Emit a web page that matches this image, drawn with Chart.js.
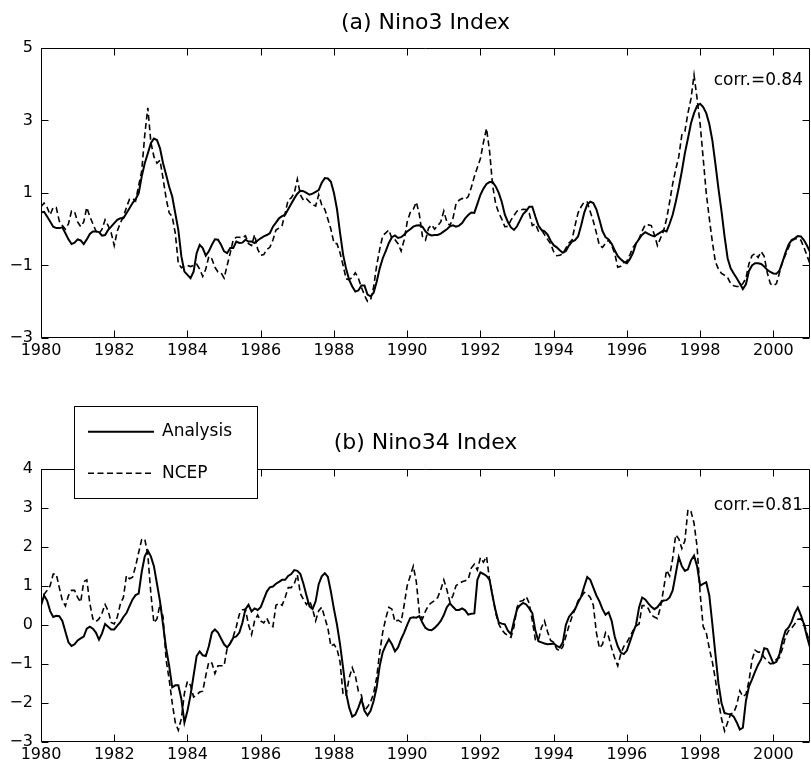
<!DOCTYPE html>
<html>
<head>
<meta charset="utf-8">
<title>Nino3 / Nino34 Index</title>
<script src="https://cdn.jsdelivr.net/npm/chart.js@4.4.1/dist/chart.umd.min.js"></script>
<style>
  html, body { margin: 0; padding: 0; background: #fff; }
  .panel { position: absolute; left: 0; width: 811px; }
  #panelA { top: 0; height: 386px; }
  #panelB { top: 386px; height: 387px; }
</style>
</head>
<body>
<div class="panel" id="panelA"><canvas id="ninoA" width="811" height="386"></canvas></div>
<div class="panel" id="panelB"><canvas id="ninoB" width="811" height="387"></canvas></div>
<script>
// monthly time axis, Jan 1980 .. Jan 2001
const months = [];
for (let i = 0; i <= 252; i++) months.push(1980 + i / 12);

const xTicks = [1980, 1982, 1984, 1986, 1988, 1990, 1992, 1994, 1996, 1998, 2000];
const yTicksA = [-3, -1, 1, 3, 5];
const yTicksB = [-3, -2, -1, 0, 1, 2, 3, 4];

const seriesNames = ['Analysis', 'NCEP'];
const titles = ['(a) Nino3 Index', '(b) Nino34 Index'];
const corrLabels = ['corr.=0.84', 'corr.=0.81'];

// (a) Nino3, one row per year
const nino3Analysis = [
  0.46, 0.48, 0.35, 0.21, 0.07, 0.03, 0.03, 0.05, -0.11, -0.28, -0.41, -0.37,
  -0.28, -0.31, -0.41, -0.28, -0.13, -0.06, -0.06, -0.08, -0.18, -0.16, -0.02, 0.07,
  0.17, 0.26, 0.30, 0.30, 0.44, 0.58, 0.72, 0.83, 0.99, 1.45, 1.82, 2.09,
  2.37, 2.50, 2.46, 2.23, 1.82, 1.50, 1.17, 0.90, 0.44, -0.02, -0.75, -1.17,
  -1.26, -1.35, -1.17, -0.66, -0.43, -0.52, -0.73, -0.61, -0.43, -0.28, -0.29, -0.43,
  -0.61, -0.66, -0.52, -0.52, -0.34, -0.38, -0.37, -0.29, -0.34, -0.34, -0.38, -0.31,
  -0.25, -0.20, -0.16, -0.11, 0.07, 0.18, 0.30, 0.36, 0.40, 0.55, 0.70, 0.85,
  0.98, 1.06, 1.05, 1.00, 0.95, 0.98, 1.03, 1.08, 1.28, 1.41, 1.40, 1.31,
  1.00, 0.55, -0.10, -0.70, -1.10, -1.40, -1.58, -1.72, -1.69, -1.55, -1.55, -1.80,
  -1.85, -1.75, -1.45, -1.08, -0.80, -0.60, -0.38, -0.22, -0.17, -0.24, -0.22, -0.15,
  -0.06, 0.00, 0.07, 0.10, 0.11, 0.07, -0.06, -0.14, -0.17, -0.16, -0.16, -0.12,
  -0.06, 0.00, 0.08, 0.11, 0.07, 0.10, 0.17, 0.30, 0.39, 0.46, 0.45, 0.70,
  0.95, 1.12, 1.25, 1.30, 1.30, 1.18, 1.00, 0.75, 0.40, 0.20, 0.05, -0.02,
  0.08, 0.25, 0.42, 0.50, 0.62, 0.62, 0.35, 0.10, -0.02, -0.06, -0.15, -0.32,
  -0.44, -0.50, -0.58, -0.65, -0.60, -0.45, -0.34, -0.30, -0.20, 0.10, 0.45, 0.68,
  0.76, 0.72, 0.55, 0.26, -0.05, -0.22, -0.28, -0.40, -0.58, -0.74, -0.83, -0.90,
  -0.94, -0.82, -0.65, -0.39, -0.27, -0.15, -0.08, -0.13, -0.17, -0.20, -0.14, -0.09,
  -0.03, -0.06, 0.15, 0.40, 0.75, 1.15, 1.60, 2.10, 2.50, 2.92, 3.20, 3.40,
  3.46, 3.37, 3.20, 2.90, 2.45, 1.80, 1.12, 0.50, -0.20, -0.80, -1.08, -1.22,
  -1.35, -1.50, -1.65, -1.52, -1.15, -1.00, -0.94, -0.94, -0.96, -1.03, -1.12, -1.18,
  -1.22, -1.23, -1.14, -0.90, -0.64, -0.42, -0.30, -0.25, -0.19, -0.20, -0.30, -0.45,
  -0.62
];
const nino3Ncep = [
  0.62, 0.72, 0.60, 0.40, 0.60, 0.60, 0.22, 0.10, 0.00, 0.15, 0.50, 0.48,
  0.20, 0.07, 0.20, 0.60, 0.35, 0.15, -0.05, -0.13, 0.00, 0.26, 0.10, -0.10,
  -0.45, -0.05, 0.17, 0.35, 0.60, 0.83, 0.85, 0.78, 1.20, 1.60, 2.60, 3.35,
  2.40, 2.00, 1.82, 1.90, 1.40, 0.85, 0.45, 0.35, -0.11, -0.94, -1.06, -1.02,
  -1.00, -1.03, -1.00, -0.96, -1.10, -1.30, -1.10, -0.75, -0.82, -1.05, -1.18, -1.20,
  -1.35, -1.00, -0.66, -0.29, -0.22, -0.22, -0.24, -0.18, -0.40, -0.45, -0.15, -0.55,
  -0.72, -0.70, -0.56, -0.50, -0.30, -0.02, 0.03, 0.10, 0.44, 0.81, 0.86, 1.00,
  1.38, 0.95, 0.80, 0.84, 0.75, 0.68, 0.64, 0.95, 0.67, 0.55, 0.28, 0.00,
  -0.38, -0.40, -0.65, -1.00, -1.37, -1.39, -1.33, -1.20, -1.35, -1.60, -1.82, -1.99,
  -1.95, -1.60, -1.00, -0.55, -0.18, -0.10, -0.02, -0.26, -0.29, -0.40, -0.60, -0.30,
  0.20, 0.46, 0.55, 0.75, 0.40, -0.20, -0.30, 0.03, 0.12, 0.00, 0.10, 0.20,
  0.50, 0.20, 0.10, 0.30, 0.70, 0.80, 0.85, 0.82, 0.90, 1.15, 1.45, 1.70,
  1.95, 2.40, 2.78, 2.15, 1.20, 0.70, 0.45, 0.28, 0.07, 0.08, 0.25, 0.38,
  0.50, 0.53, 0.55, 0.54, 0.44, 0.10, 0.15, -0.05, -0.02, -0.15, -0.28, -0.40,
  -0.62, -0.73, -0.72, -0.67, -0.52, -0.38, -0.30, 0.10, 0.45, 0.62, 0.75, 0.75,
  0.48, 0.22, -0.10, -0.45, -0.50, -0.39, -0.30, -0.45, -0.66, -1.05, -1.02, -0.92,
  -0.88, -0.70, -0.50, -0.39, -0.26, -0.05, 0.12, 0.12, 0.10, -0.15, -0.45, -0.25,
  -0.05, 0.28, 0.75, 1.25, 1.65, 2.00, 2.60, 2.70, 3.20, 3.60, 4.25, 3.60,
  2.90, 1.95, 1.00, 0.30, -0.35, -0.90, -1.10, -1.22, -1.27, -1.33, -1.50, -1.56,
  -1.58, -1.58, -1.50, -1.35, -0.95, -0.73, -0.67, -0.78, -0.62, -0.75, -1.20, -1.50,
  -1.56, -1.50, -1.20, -0.90, -0.70, -0.50, -0.32, -0.27, -0.26, -0.30, -0.50, -0.72,
  -0.96
];

// (b) Nino34, one row per year
const nino34Analysis = [
  0.49, 0.75, 0.62, 0.35, 0.20, 0.23, 0.22, 0.10, -0.18, -0.45, -0.54, -0.50,
  -0.40, -0.35, -0.30, -0.10, -0.05, -0.10, -0.20, -0.38, -0.22, 0.02, -0.05, -0.12,
  -0.12, -0.02, 0.07, 0.20, 0.30, 0.48, 0.65, 0.76, 0.80, 1.35, 1.75, 1.90,
  1.75, 1.50, 1.05, 0.60, 0.00, -0.60, -1.05, -1.60, -1.55, -1.55, -1.90, -2.50,
  -2.20, -1.80, -1.30, -0.80, -0.68, -0.78, -0.80, -0.55, -0.20, -0.12, -0.20, -0.35,
  -0.50, -0.58, -0.48, -0.33, -0.30, -0.20, 0.05, 0.40, 0.51, 0.34, 0.42, 0.38,
  0.45, 0.65, 0.85, 0.96, 0.98, 1.05, 1.10, 1.15, 1.15, 1.25, 1.30, 1.40,
  1.38, 1.30, 1.05, 0.75, 0.47, 0.40, 0.60, 1.04, 1.24, 1.32, 1.23, 0.85,
  0.40, 0.00, -0.50, -1.10, -1.75, -2.12, -2.35, -2.30, -2.12, -1.90, -2.20, -2.32,
  -2.20, -1.95, -1.60, -1.05, -0.70, -0.52, -0.37, -0.50, -0.68, -0.58, -0.37, -0.20,
  0.00, 0.17, 0.19, 0.18, 0.22, 0.05, -0.08, -0.13, -0.14, -0.08, 0.00, 0.10,
  0.25, 0.45, 0.55, 0.46, 0.38, 0.38, 0.42, 0.37, 0.26, 0.28, 0.29, 1.15,
  1.34, 1.30, 1.25, 1.15, 0.72, 0.35, 0.06, 0.03, 0.01, -0.15, -0.24, 0.10,
  0.40, 0.50, 0.56, 0.52, 0.42, 0.30, -0.15, -0.42, -0.45, -0.48, -0.50, -0.49,
  -0.48, -0.54, -0.58, -0.45, 0.00, 0.20, 0.30, 0.40, 0.57, 0.72, 0.98, 1.22,
  1.15, 0.95, 0.75, 0.60, 0.40, 0.26, 0.32, 0.10, -0.30, -0.55, -0.71, -0.75,
  -0.66, -0.43, -0.20, 0.00, 0.45, 0.70, 0.65, 0.55, 0.46, 0.40, 0.45, 0.56,
  0.62, 0.63, 0.70, 0.88, 1.30, 1.73, 1.50, 1.38, 1.42, 1.65, 1.77, 1.50,
  1.00, 1.05, 1.09, 0.75, 0.02, -0.75, -1.50, -2.00, -2.26, -2.28, -2.29, -2.35,
  -2.50, -2.68, -2.63, -1.95, -1.58, -1.40, -1.20, -1.02, -0.88, -0.60, -0.62, -0.80,
  -0.99, -0.95, -0.75, -0.40, -0.15, -0.07, 0.08, 0.30, 0.44, 0.25, 0.02, -0.30,
  -0.58
];
const nino34Ncep = [
  0.53, 0.78, 0.88, 1.00, 1.30, 1.30, 0.95, 0.62, 0.48, 0.75, 0.88, 0.88,
  0.70, 0.58, 1.10, 1.15, 0.55, 0.15, 0.08, 0.15, 0.30, 0.52, 0.36, 0.06,
  0.02, 0.20, 0.53, 0.70, 1.26, 1.18, 1.22, 1.50, 1.85, 2.18, 2.20, 1.80,
  0.80, 0.05, 0.15, 0.53, 0.20, -0.90, -1.40, -2.00, -2.50, -2.70, -2.40, -1.75,
  -1.45, -1.55, -1.85, -1.80, -1.72, -1.70, -1.30, -0.95, -0.98, -1.25, -1.05, -1.05,
  -1.05, -0.60, -0.47, -0.30, -0.05, 0.27, 0.38, 0.40, 0.00, -0.25, 0.10, 0.25,
  0.10, 0.05, 0.17, 0.00, -0.05, 0.50, 0.55, 0.50, 0.70, 0.95, 0.95, 1.05,
  1.28, 0.80, 0.65, 0.52, 0.62, 0.40, 0.10, 0.36, 0.45, 0.18, -0.08, -0.55,
  -0.50, -0.62, -0.95, -1.80, -1.80, -1.35, -1.10, -1.30, -1.70, -1.80, -2.20, -2.10,
  -1.98, -1.75, -1.35, -0.70, -0.18, 0.17, 0.45, 0.40, 0.08, 0.12, 0.07, 0.50,
  1.00, 1.25, 1.50, 1.10, 0.30, 0.15, 0.35, 0.50, 0.57, 0.62, 0.70, 0.90,
  1.15, 0.90, 0.58, 0.75, 1.00, 1.06, 1.10, 1.13, 1.16, 1.45, 1.55, 1.40,
  1.72, 1.60, 1.75, 1.15, 0.75, 0.30, 0.02, -0.13, -0.22, -0.28, -0.32, -0.05,
  0.45, 0.60, 0.62, 0.72, 0.55, 0.10, -0.38, -0.40, -0.07, 0.10, -0.18, -0.40,
  -0.45, -0.62, -0.67, -0.56, -0.30, -0.03, 0.20, 0.40, 0.62, 0.70, 0.83, 0.79,
  0.70, 0.50, -0.20, -0.60, -0.50, -0.20, -0.30, -0.60, -0.85, -1.05, -0.75, -0.55,
  -0.45, -0.30, -0.15, -0.03, 0.02, 0.49, 0.49, 0.42, 0.25, 0.20, 0.16, 0.45,
  0.90, 1.40, 1.25, 1.70, 2.30, 2.20, 1.95, 2.15, 2.95, 2.90, 2.60, 2.00,
  0.80, -0.05, -0.20, -0.60, -0.95, -1.40, -1.95, -2.40, -2.72, -2.50, -2.28, -2.25,
  -2.05, -1.69, -1.84, -1.78, -1.44, -0.90, -0.65, -0.70, -0.70, -0.84, -0.92, -1.00,
  -0.98, -0.88, -0.84, -0.60, -0.30, -0.15, -0.08, 0.02, 0.14, 0.15, 0.05, -0.22,
  -0.48
];

const FONT = "'DejaVu Sans', sans-serif";

function toPoints(values) {
  return values.map((v, i) => ({ x: months[i], y: v }));
}

function minusSign(v) {
  return String(v).replace('-', '\u2212');
}

// box around the plot area with inward tick marks on all four sides
const frameTicks = {
  id: 'frameTicks',
  afterDatasetsDraw(chart) {
    const { ctx, chartArea: a, scales } = chart;
    const L = Math.round(a.left) + 0.5, R = Math.round(a.right) - 0.5;
    const T = Math.round(a.top) + 0.5, B = Math.round(a.bottom) - 0.5;
    const len = 7;
    ctx.save();
    ctx.strokeStyle = '#000';
    ctx.lineWidth = 1;
    ctx.beginPath();
    ctx.rect(L, T, R - L, B - T);
    scales.x.ticks.forEach(t => {
      const px = Math.round(scales.x.getPixelForValue(t.value)) + 0.5;
      ctx.moveTo(px, B); ctx.lineTo(px, B - len);
      ctx.moveTo(px, T); ctx.lineTo(px, T + len);
    });
    scales.y.ticks.forEach(t => {
      const py = Math.round(scales.y.getPixelForValue(t.value)) + 0.5;
      ctx.moveTo(L, py); ctx.lineTo(L + len, py);
      ctx.moveTo(R, py); ctx.lineTo(R - len, py);
    });
    ctx.stroke();
    ctx.restore();
  }
};

// "corr.=..." note in the upper right corner
const corrNote = {
  id: 'corrNote',
  afterDraw(chart, args, opts) {
    if (!opts.text) return;
    const { ctx, chartArea: a } = chart;
    ctx.save();
    ctx.font = '17px ' + FONT;
    ctx.fillStyle = '#000';
    ctx.textAlign = 'right';
    ctx.textBaseline = 'middle';
    ctx.fillText(opts.text, a.right - 7, opts.y);
    ctx.restore();
  }
};

// boxed legend that sits over the top-left of the lower panel
const boxLegend = {
  id: 'boxLegend',
  afterDraw(chart, args, opts) {
    if (!opts.show) return;
    const { ctx } = chart;
    const b = opts.box;
    ctx.save();
    ctx.fillStyle = '#fff';
    ctx.fillRect(b.x, b.y, b.w, b.h);
    ctx.strokeStyle = '#000';
    ctx.lineWidth = 1;
    ctx.strokeRect(b.x + 0.5, b.y + 0.5, b.w, b.h);
    ctx.font = '17px ' + FONT;
    ctx.fillStyle = '#000';
    ctx.textBaseline = 'middle';
    chart.data.datasets.forEach((ds, i) => {
      const y = b.y + opts.rows[i];
      ctx.beginPath();
      ctx.lineWidth = ds.borderWidth;
      ctx.setLineDash(ds.borderDash || []);
      ctx.moveTo(b.x + 14, y);
      ctx.lineTo(b.x + 80, y);
      ctx.stroke();
      ctx.setLineDash([]);
      ctx.fillText(ds.label, b.x + 88, y);
    });
    ctx.restore();
  }
};

function makePanel(canvasId, title, titlePad, anaVals, ncepVals, yMin, yMax, yStep, axisHeight, corr, legend) {
  return new Chart(document.getElementById(canvasId), {
    type: 'line',
    data: {
      datasets: [{
        label: seriesNames[0],
        data: toPoints(anaVals),
        borderColor: '#000',
        borderWidth: 2,
        pointRadius: 0,
        tension: 0
      }, {
        label: seriesNames[1],
        data: toPoints(ncepVals),
        borderColor: '#000',
        borderWidth: 1.6,
        borderDash: [6, 3.5],
        pointRadius: 0,
        tension: 0
      }]
    },
    options: {
      responsive: false,
      animation: false,
      devicePixelRatio: 1,
      layout: { padding: { left: 0, right: 1, top: 0, bottom: 0 } },
      plugins: {
        legend: { display: false },
        tooltip: { enabled: false },
        title: {
          display: true,
          text: title,
          fullSize: false,
          color: '#000',
          font: { family: FONT, size: 22, weight: 'normal' },
          padding: titlePad
        },
        corrNote: corr,
        boxLegend: legend
      },
      scales: {
        x: {
          type: 'linear',
          min: 1980,
          max: 2001,
          grid: { display: false, drawTicks: false },
          border: { display: false },
          afterFit: s => { s.height = axisHeight; },
          ticks: {
            stepSize: 2,
            includeBounds: false,
            padding: 3,
            maxRotation: 0,
            autoSkip: false,
            color: '#000',
            font: { family: FONT, size: 16 },
            callback: v => String(v)
          }
        },
        y: {
          min: yMin,
          max: yMax,
          grid: { display: false, drawTicks: false },
          border: { display: false },
          afterFit: s => { s.width = 41; },
          ticks: {
            stepSize: yStep,
            padding: 8,
            color: '#000',
            font: { family: FONT, size: 16 },
            callback: v => minusSign(v)
          }
        }
      }
    },
    plugins: [frameTicks, corrNote, boxLegend]
  });
}

makePanel('ninoA', titles[0], { top: 10.3, bottom: 11.2 },
  nino3Analysis, nino3Ncep, yTicksA[0], yTicksA[yTicksA.length - 1], 2, 48,
  { text: corrLabels[0], y: 80.5 }, { show: false });

makePanel('ninoB', titles[1], { top: 43.8, bottom: 12.3 },
  nino34Analysis, nino34Ncep, yTicksB[0], yTicksB[yTicksB.length - 1], 1, 31,
  { text: corrLabels[1], y: 120 },
  { show: true, box: { x: 74, y: 20, w: 183, h: 92 }, rows: [25.7, 67.3] });
</script>
</body>
</html>
